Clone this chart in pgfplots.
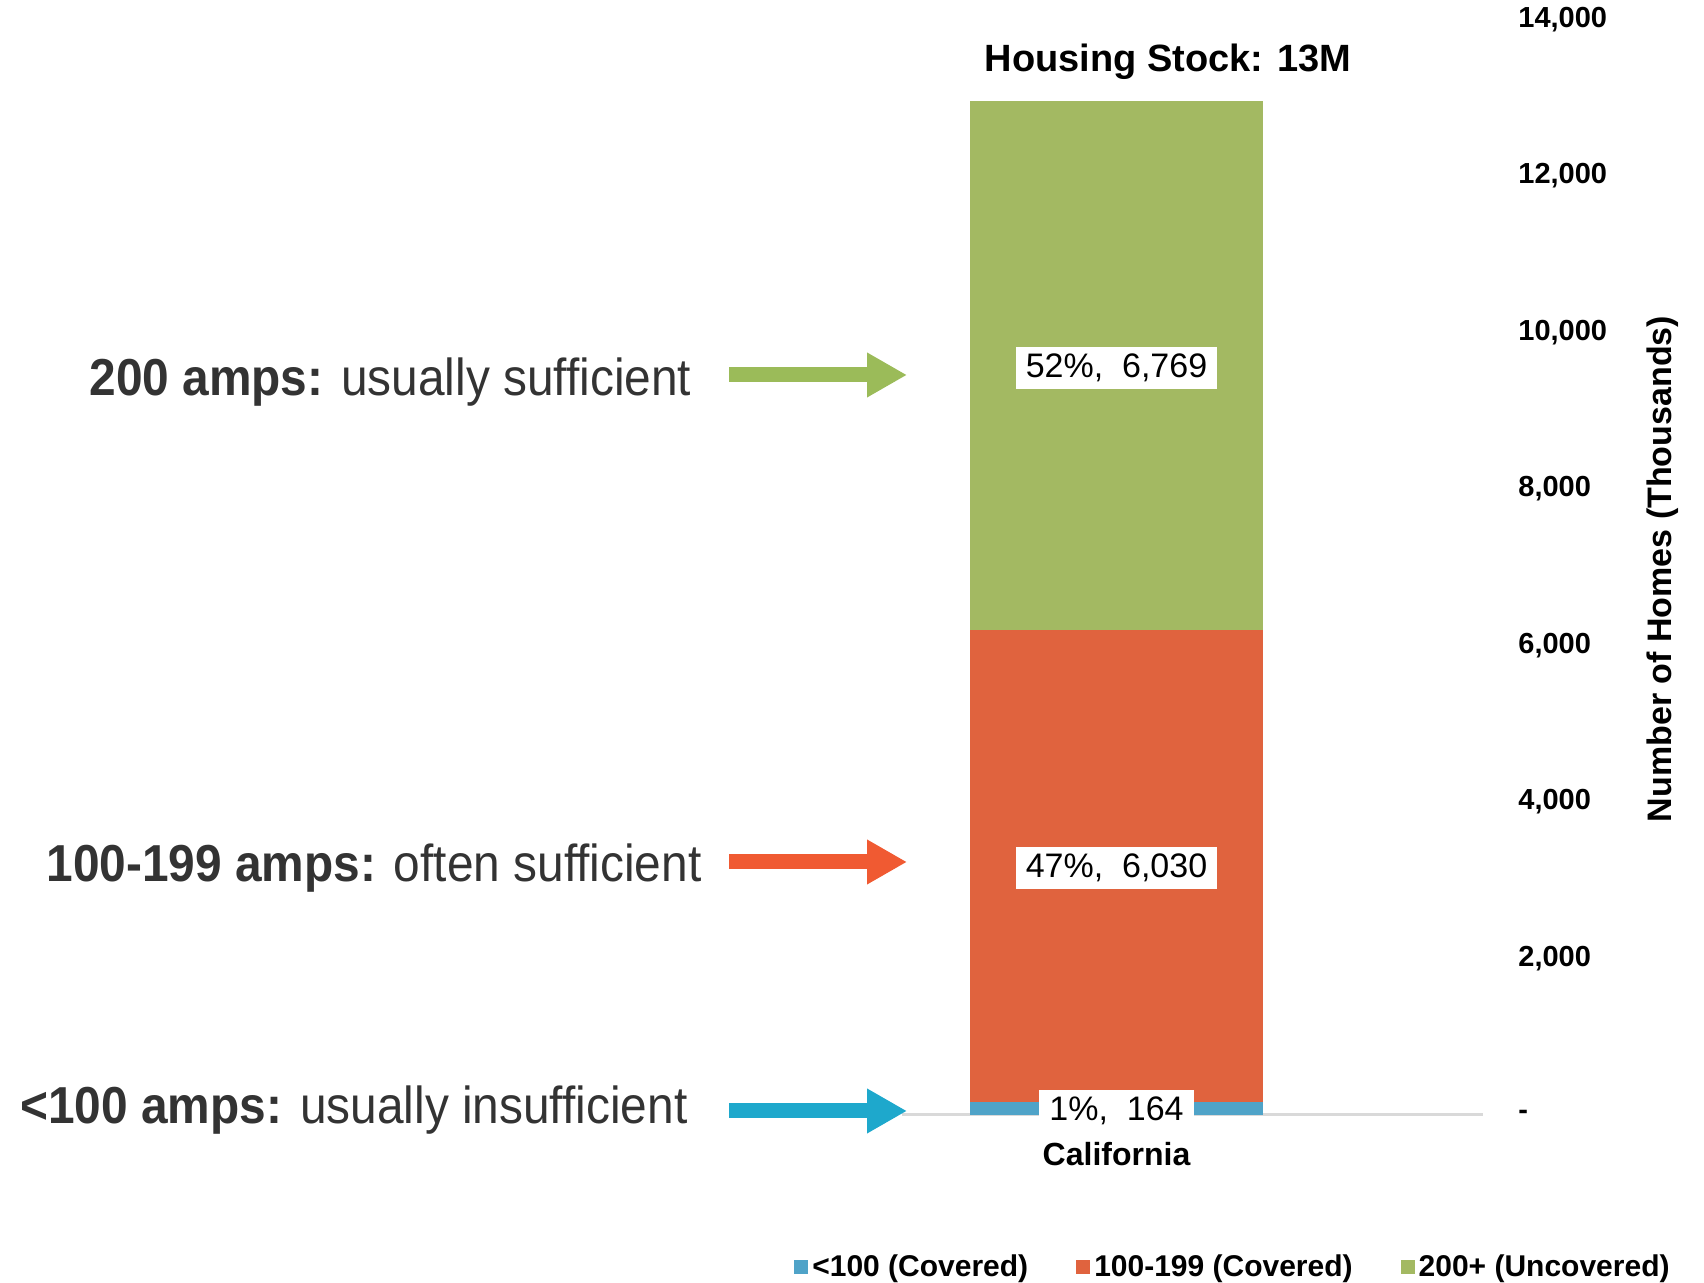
\documentclass[border=0pt]{standalone}
\usepackage{pgfplots}
\pgfplotsset{compat=1.18}
\usepackage{fontspec}
\setmainfont{Liberation Sans}
\newfontfamily\narrowfont[FakeStretch=0.92]{Liberation Sans}
\usetikzlibrary{arrows.meta}
\definecolor{barblue}{HTML}{4FA3C8}
\definecolor{barorange}{HTML}{E0633E}
\definecolor{bargreen}{HTML}{A3B962}
\definecolor{arrgreen}{HTML}{9BBB59}
\definecolor{arrorange}{HTML}{F05A32}
\definecolor{arrblue}{HTML}{1EA8CC}
\definecolor{txtgray}{HTML}{333333}
\begin{document}
\begin{tikzpicture}[x=1pt,y=1pt]
\path[use as bounding box] (0,0) rectangle (852,641.5);
\begin{axis}[
  at={(451pt,84pt)}, anchor=south west,
  scale only axis, width=290.5pt, height=547.7pt,
  xmin=0, xmax=290.5, ymin=0, ymax=14000,
  clip=false,
  ybar stacked, bar width=146.5pt,
  axis x line*=bottom, axis y line*=right,
  x axis line style={draw=black!15, line width=1.5pt, -},
  y axis line style={draw=none},
  xtick={107.25}, xticklabels={California},
  xticklabel style={font=\bfseries\fontsize{16}{19}\selectfont, anchor=center, yshift=-19.5pt},
  ytick={0,2000,4000,6000,8000,10000,12000,14000},
  yticklabels={{-},{2,000},{4,000},{6,000},{8,000},{10,000},{12,000},{14,000}},
  yticklabel style={font=\bfseries\fontsize{14.5}{17}\selectfont, anchor=west, inner sep=0pt, xshift=17.5pt},
  major tick length=0pt,
  tick style={draw=none},
  legend columns=3,
  legend cell align=left,
  legend style={at={(axis description cs:0.5714,-0.1388)}, anchor=center, draw=none, fill=none, font=\bfseries\fontsize{15}{18}\selectfont, /tikz/every even column/.append style={column sep=22pt}},
]
\addplot[fill=barblue, draw=none, legend image code/.code={\fill[barblue] (0pt,-3.5pt) rectangle (7pt,3.5pt);}] coordinates {(107.25,164)};
\addlegendentry{<100 (Covered)}
\addplot[fill=barorange, draw=none, legend image code/.code={\fill[barorange] (0pt,-3.5pt) rectangle (7pt,3.5pt);}] coordinates {(107.25,6030)};
\addlegendentry{100-199 (Covered)}
\addplot[fill=bargreen, draw=none, legend image code/.code={\fill[bargreen] (0pt,-3.5pt) rectangle (7pt,3.5pt);}] coordinates {(107.25,6769)};
\addlegendentry{200+ (Uncovered)}
\end{axis}
% overlay axis with the segment labels placed at the middle of each segment
\begin{axis}[
  at={(451pt,84pt)}, anchor=south west,
  scale only axis, width=290.5pt, height=547.7pt,
  xmin=0, xmax=290.5, ymin=0, ymax=14000,
  clip=false, hide axis,
  point meta=explicit symbolic,
  nodes near coords,
  every node near coord/.append style={anchor=center, yshift=-1pt, fill=white, inner xsep=5pt, inner ysep=0pt, minimum height=21pt, font=\fontsize{17}{20}\selectfont, text=black},
]
\addplot[draw=none, mark=none] coordinates {
  (107.25,82) [1\%,\ \ 164]
  (107.25,3179) [47\%,\ \ 6,030]
  (107.25,9578.5) [52\%,\ \ 6,769]
};
\end{axis}
\node[font=\bfseries\fontsize{19}{23}\selectfont] at (584,610.5) {Housing Stock: 13M};
\node[rotate=90, font=\bfseries\fontsize{17}{20}\selectfont] at (831.5,357) {Number of Homes (Thousands)};
\node[anchor=base west, inner sep=0pt, text=txtgray, font=\narrowfont\fontsize{26}{30}\selectfont] at (44.5,443.7) {\textbf{200 amps:} usually sufficient};
\node[anchor=base west, inner sep=0pt, text=txtgray, font=\narrowfont\fontsize{26}{30}\selectfont] at (23,200.7) {\textbf{100-199 amps:} often sufficient};
\node[anchor=base west, inner sep=0pt, text=txtgray, font=\narrowfont\fontsize{26}{30}\selectfont] at (10,79.7) {\textbf{<100 amps:} usually insufficient};
\draw[arrgreen, line width=7.5pt, -{Triangle[length=20pt,width=21pt]}] (364.5,454) -- (453.5,454);
\draw[arrorange, line width=7.5pt, -{Triangle[length=20pt,width=21pt]}] (364.5,210.5) -- (453.5,210.5);
\draw[arrblue, line width=7.5pt, -{Triangle[length=20pt,width=21pt]}] (364.5,86) -- (453.5,86);
\end{tikzpicture}
\end{document}
